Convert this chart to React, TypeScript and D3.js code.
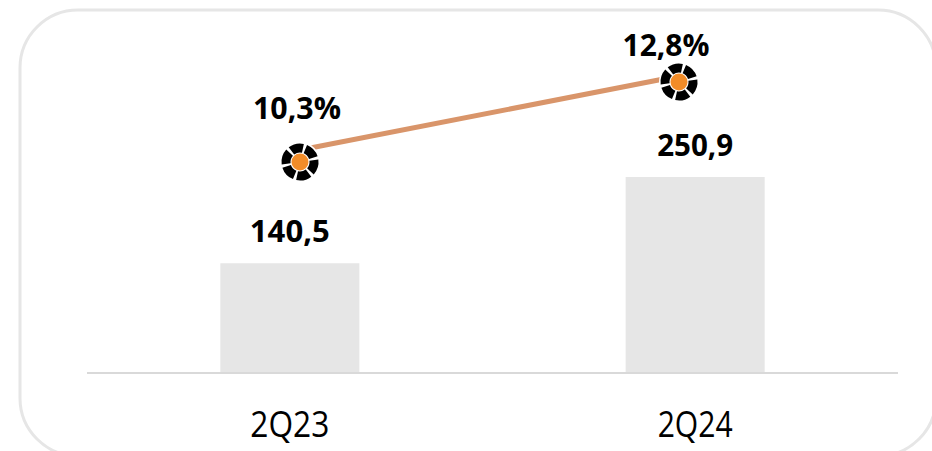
import React from "react";
import * as d3 from "d3";

const categories = ["2Q23", "2Q24"];
const barValues = [140.5, 250.9];
const barLabels = ["140,5", "250,9"];
const lineValues = [10.3, 12.8];
const lineLabels = ["10,3%", "12,8%"];

const W = 932;
const H = 451;
const baseY = 373;

export default function App() {
  const x = d3.scaleBand<string>().domain(categories).range([87, 898]).paddingInner(0.657).paddingOuter(0.329);
  const y = d3.scaleLinear().domain([0, 250.9]).range([baseY, 177]);
  const xl = d3.scalePoint<string>().domain(categories).range([300, 679]);
  const yl = d3.scaleLinear().domain([10.3, 12.8]).range([150, 76]);
  const markerDy = [12, 6];
  const labelOff = [{ dx: -3, dy: -31 }, { dx: -13, dy: -20 }];
  const labelW = [88, 87];
  const barLabelW = [80, 76];
  const catW = [79, 75];
  const lineGen = d3.line<number>().x((_, i) => xl(categories[i])!).y((d) => yl(d));
  const segs = d3.range(6);
  const arc = d3.arc();
  const font = "'Open Sans', 'Noto Sans', sans-serif";

  return (
    <svg width={W} height={H} style={{ position: "absolute", left: 0, top: 0 }}>
      <rect x={0} y={0} width={W} height={H} fill="#ffffff" />
      <rect x={20} y={10} width={916} height={446} rx={58} ry={58} fill="none" stroke="#e6e6e6" strokeWidth={3} />
      {categories.map((c, i) => (
        <rect key={c} x={x(c)} y={y(barValues[i])} width={x.bandwidth()} height={baseY - y(barValues[i])} fill="#e6e6e6" />
      ))}
      <line x1={87} x2={898} y1={baseY} y2={baseY} stroke="#d9d9d9" strokeWidth={2} />
      <path d={lineGen(lineValues) || ""} fill="none" stroke="#d9956a" strokeWidth={5} />
      {categories.map((c, i) => {
        const cx = xl(c)!;
        const cy = yl(lineValues[i]) + markerDy[i];
        return (
          <g key={"m" + c} transform={`translate(${cx},${cy})`}>
            <circle r={20} fill="#ffffff" />
            {segs.map((s) => {
              const a0 = (s / 6) * 2 * Math.PI + 0.3 + 0.09;
              const a1 = ((s + 1) / 6) * 2 * Math.PI + 0.3 - 0.09;
              return (
                <path key={s} d={arc({ innerRadius: 9.5, outerRadius: 18.5, startAngle: a0, endAngle: a1, cornerRadius: 3 } as any) || ""} fill="#000000" />
              );
            })}
            <circle r={8.5} fill="#f28c28" />
          </g>
        );
      })}
      {categories.map((c, i) => (
        <text key={"bl" + c} x={x(c)! + x.bandwidth() / 2} y={y(barValues[i]) - 21} textAnchor="middle" fontFamily={font} fontWeight="bold" fontSize={31} fill="#000" textLength={barLabelW[i]} lengthAdjust="spacingAndGlyphs">
          {barLabels[i]}
        </text>
      ))}
      {categories.map((c, i) => (
        <text key={"ll" + c} x={xl(c)! + labelOff[i].dx} y={yl(lineValues[i]) + labelOff[i].dy} textAnchor="middle" fontFamily={font} fontWeight="bold" fontSize={31} fill="#000" textLength={labelW[i]} lengthAdjust="spacingAndGlyphs">
          {lineLabels[i]}
        </text>
      ))}
      {categories.map((c, i) => (
        <text key={"c" + c} x={x(c)! + x.bandwidth() / 2} y={437} textAnchor="middle" fontFamily={font} fontSize={37} fill="#000" textLength={catW[i]} lengthAdjust="spacingAndGlyphs">
          {c}
        </text>
      ))}
    </svg>
  );
}
